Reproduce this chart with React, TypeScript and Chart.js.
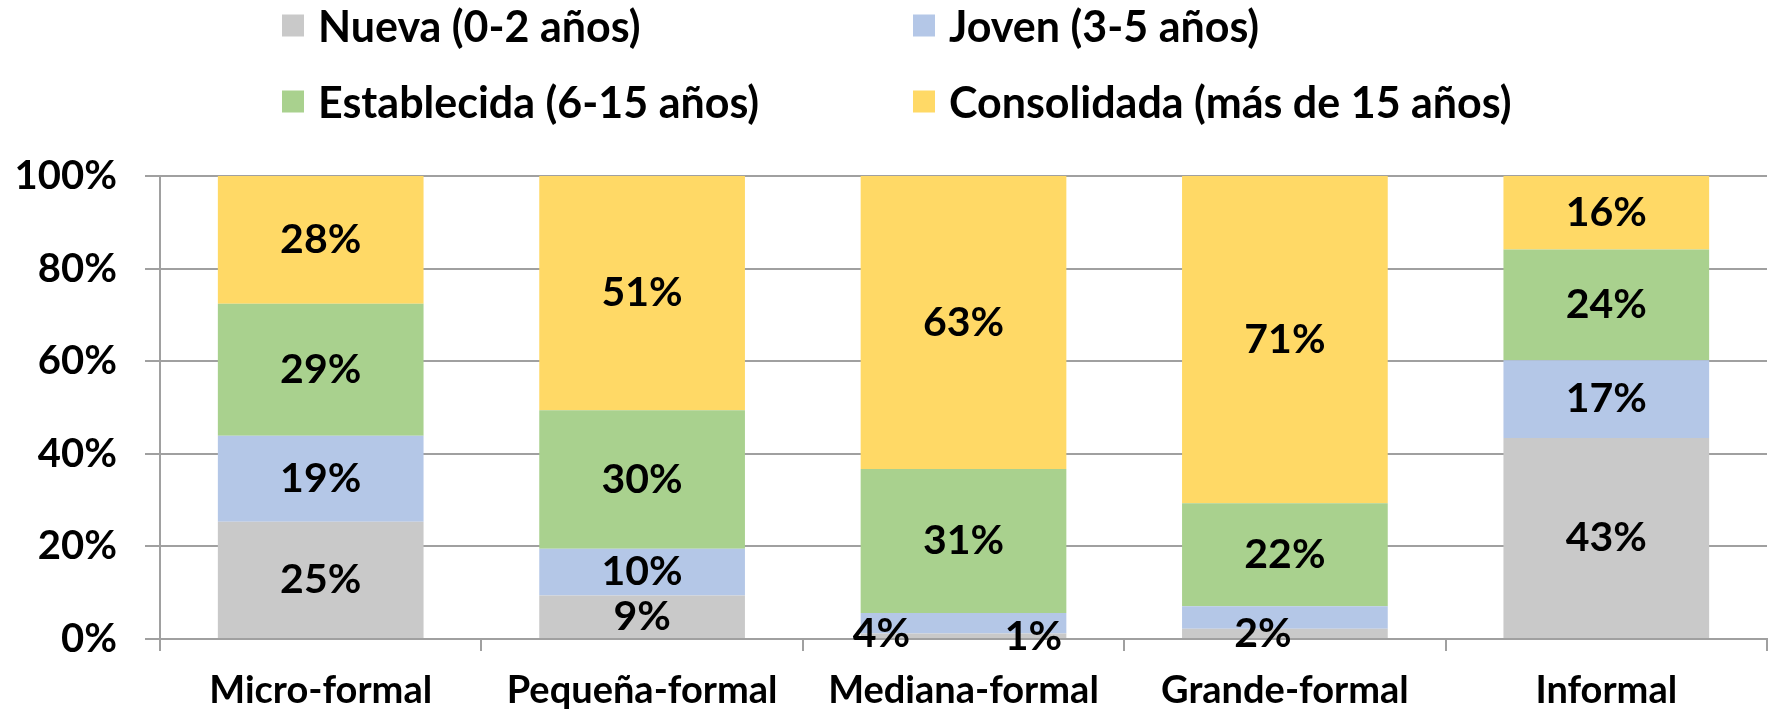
import React, { useEffect, useRef } from "react";
import { Chart, registerables } from "chart.js";

Chart.register(...registerables);

const categories = ["Micro-formal", "Pequeña-formal", "Mediana-formal", "Grande-formal", "Informal"];
const seriesNames = ["Nueva (0-2 años)", "Joven (3-5 años)", "Establecida (6-15 años)", "Consolidada (más de 15 años)"];
const nueva = [25.3, 9.4, 1.2, 2.2, 43.4];
const joven = [18.6, 10.1, 4.4, 4.9, 16.8];
const establecida = [28.5, 29.9, 31.1, 22.2, 23.9];
const consolidada = [27.6, 50.6, 63.3, 70.7, 15.9];
const yTicks = [0, 20, 40, 60, 80, 100];
const colors = ["#C9C9C9", "#B4C7E7", "#A9D18E", "#FFD966"];

const FONT = "Lato, 'Open Sans', sans-serif";

const valueLabels = {
  id: "valueLabels",
  afterDatasetsDraw(chart: any, _args: any, opts: any) {
    const ctx = chart.ctx;
    const hidden: string[] = opts.hidden || [];
    const offsets: Record<string, [number, number]> = opts.offsets || {};
    ctx.save();
    ctx.font = `bold ${opts.size}px ${FONT}`;
    ctx.fillStyle = "#000";
    ctx.textAlign = "center";
    ctx.textBaseline = "middle";
    chart.data.datasets.forEach((ds: any, di: number) => {
      const meta = chart.getDatasetMeta(di);
      meta.data.forEach((el: any, i: number) => {
        const key = `${di}-${i}`;
        if (hidden.includes(key)) return;
        const v = ds.data[i];
        const off = offsets[key] || [0, 0];
        const x = el.x + off[0];
        const y = (el.y + el.base) / 2 + off[1];
        ctx.fillText(`${Math.round(v)}%`, x, y);
      });
    });
    ctx.restore();
  },
};

export default function App() {
  const ref = useRef<HTMLCanvasElement>(null);
  useEffect(() => {
    const series = [nueva, joven, establecida, consolidada];
    const chart = new Chart(ref.current!, {
      type: "bar",
      data: {
        labels: categories,
        datasets: series.map((d, i) => ({
          label: seriesNames[i],
          data: d,
          backgroundColor: colors[i],
          borderWidth: 0,
          barPercentage: 0.64,
          categoryPercentage: 1,
        })),
      },
      options: {
        responsive: false,
        animation: false,
        layout: { padding: { top: 176, right: 1, left: 0, bottom: 0 } },
        plugins: {
          legend: { display: false },
          tooltip: { enabled: false },
          valueLabels: {
            size: 41,
            hidden: ["1-3"],
            offsets: { "1-2": [-82, 11], "0-2": [70, 1], "0-3": [-22, 0] },
          },
        } as any,
        scales: {
          x: {
            stacked: true,
            grid: { offset: true, drawOnChartArea: false, drawTicks: true, tickLength: 12, color: "#A0A0A0", lineWidth: 2 },
            border: { color: "#A0A0A0", width: 2 },
            ticks: { color: "#000", font: { family: FONT, size: 38, weight: "bold" }, padding: 17, maxRotation: 0 },
            afterFit: (s: any) => { s.height = 75; },
          },
          y: {
            stacked: true,
            min: 0,
            max: 100,
            afterBuildTicks: (s: any) => { s.ticks = yTicks.map((v) => ({ value: v })); },
            ticks: { color: "#000", font: { family: FONT, size: 40, weight: "bold" }, padding: 28, callback: (v: any) => `${v}%` },
            grid: { color: "#A0A0A0", lineWidth: 2, tickLength: 15 },
            border: { color: "#A0A0A0", width: 2 },
            afterFit: (s: any) => { s.width = 160; },
          },
        },
      },
      plugins: [valueLabels],
    });
    return () => chart.destroy();
  }, []);

  const legendPos = [
    { left: 282, top: 25 },
    { left: 913, top: 25 },
    { left: 282, top: 101 },
    { left: 913, top: 101 },
  ];

  return (
    <div style={{ position: "fixed", left: 0, top: 0, width: 1768, height: 714, background: "#fff" }}>
      <canvas ref={ref} width={1768} height={714} style={{ position: "absolute", left: 0, top: 0 }} />
      {seriesNames.map((name, i) => (
        <div
          key={name}
          style={{
            position: "absolute",
            left: legendPos[i].left,
            top: legendPos[i].top,
            transform: "translateY(-50%)",
            display: "flex",
            alignItems: "center",
            fontFamily: FONT,
            fontWeight: "bold",
            fontSize: 43,
            whiteSpace: "nowrap",
            color: "#000",
          }}
        >
          <span style={{ display: "inline-block", width: 22, height: 22, background: colors[i], marginRight: 14 }} />
          <span>{name}</span>
        </div>
      ))}
    </div>
  );
}
